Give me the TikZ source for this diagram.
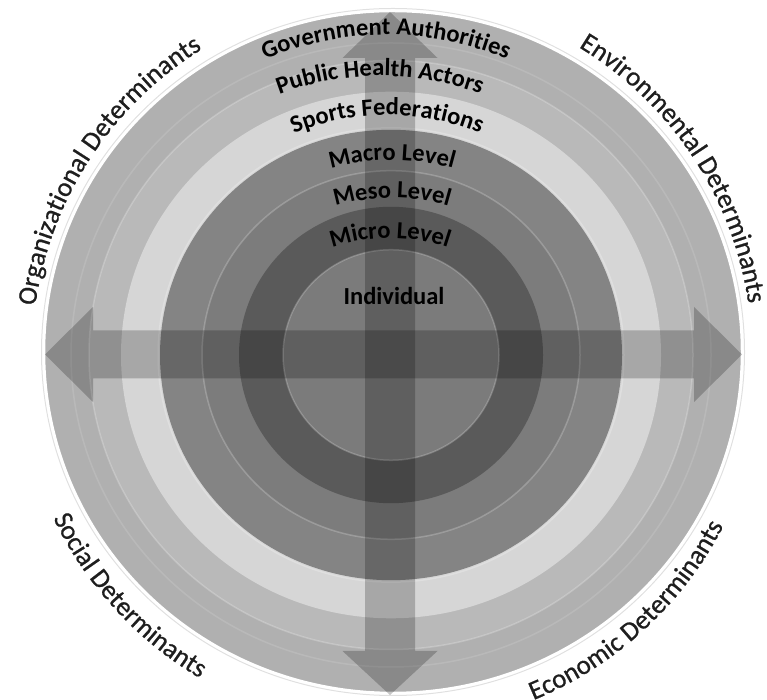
\documentclass[tikz,border=0pt]{standalone}
\usepackage{fontspec}
\setmainfont{Carlito}
\newfontfamily\rimfont[FakeBold=0.7]{Carlito}
\usepackage{tikz}
\usetikzlibrary{decorations.text}

\definecolor{govtgray}{HTML}{B0B0B0}
\definecolor{phgray}{HTML}{B9B9B9}
\definecolor{sportgray}{HTML}{D6D6D6}
\definecolor{macrogray}{HTML}{848484}
\definecolor{mesogray}{HTML}{7C7C7C}
\definecolor{microgray}{HTML}{5A5A5A}
\definecolor{indgray}{HTML}{7B7B7B}
\definecolor{textdark}{HTML}{1E1E1E}

\begin{document}
\begin{tikzpicture}[x=1pt,y=1pt,
    outerlab/.style={decorate,decoration={text along path,text align=center,
      text color=textdark,text={|\rimfont\fontsize{27}{27}\selectfont|#1}}},
    innerlab/.style={decorate,decoration={text along path,text align=center,
      text color=black,text={|\fontsize{24.5}{24.5}\selectfont\bfseries|#1}}}]
  \tikzstyle{shade}=[fill=black,fill opacity=0.22]
  \tikzstyle{glint}=[draw=white,draw opacity=0.22,line width=1.5pt]

  \useasboundingbox (0,0) rectangle (767,700);

  \draw[black!12,line width=1pt] (393,348) ellipse [x radius=351.5, y radius=343.5];
  \fill[govtgray] (393,348) ellipse [x radius=349, y radius=341];
  \draw[white,line width=2.5pt] (393,348) ellipse [x radius=349, y radius=341];
  \fill[phgray] (391,345) ellipse [x radius=302, y radius=294.5];
  \fill[sportgray] (391,345) ellipse [x radius=270, y radius=263.3];
  \fill[macrogray] (391,345) ellipse [x radius=231, y radius=225.2];
  \fill[mesogray] (391,345) ellipse [x radius=189, y radius=184.3];
  \fill[microgray] (391,345) ellipse [x radius=152, y radius=148.2];
  \fill[indgray] (391,345) ellipse [x radius=108, y radius=105.3];

  \draw[glint,draw opacity=0.12] (391,345) ellipse [x radius=320, y radius=312];
  \draw[glint] (391,345) ellipse [x radius=302, y radius=294.5];
  \draw[glint] (391,345) ellipse [x radius=233, y radius=227.2];
  \draw[glint] (391,345) ellipse [x radius=189, y radius=184.3];
  \draw[glint] (391,345) ellipse [x radius=108, y radius=105.3];

  \fill[shade] (45,345.5) -- (93,393) -- (93,369.5) -- (694,369.5) -- (694,393)
    -- (742,345.5) -- (694,298) -- (694,321.5) -- (93,321.5) -- (93,298) -- cycle;
  \fill[shade] (390,688) -- (437.5,642) -- (415,642) -- (415,49) -- (437.5,49)
    -- (390,5) -- (342.5,49) -- (365,49) -- (365,642) -- (342.5,642) -- cycle;

  \path[outerlab={Organizational Determinants}] (392,345) ++(180:360) arc[start angle=180, end angle=114, radius=360];
  \path[outerlab={Environmental Determinants}] (392,345) ++(67:360) arc[start angle=67, end angle=0, radius=360];
  \path[outerlab={Social Determinants}] (392,345) ++(190:376) arc[start angle=190, end angle=255, radius=376];
  \path[outerlab={Economic Determinants}] (392,345) ++(280:373) arc[start angle=280, end angle=345, radius=373];

  \path[innerlab={Government Authorities}] (386,355) ++(150:310) arc[start angle=150, end angle=30, radius=310];
  \path[innerlab={Public Health Actors}] (380,339) ++(150:285) arc[start angle=150, end angle=30, radius=285];
  \path[innerlab={Sports Federations}] (387,342) ++(150:243) arc[start angle=150, end angle=30, radius=243];
  \path[innerlab={Macro Level}] (392,315) ++(140:225) arc[start angle=140, end angle=40, radius=225];
  \path[innerlab={Meso Level}] (392,302) ++(140:200) arc[start angle=140, end angle=40, radius=200];
  \path[innerlab={Micro Level}] (390,282) ++(140:180) arc[start angle=140, end angle=40, radius=180];
  \node[anchor=base,font=\fontsize{24.5}{24.5}\selectfont\bfseries] (ind) at (394,395) {Individual};
\end{tikzpicture}
\end{document}
